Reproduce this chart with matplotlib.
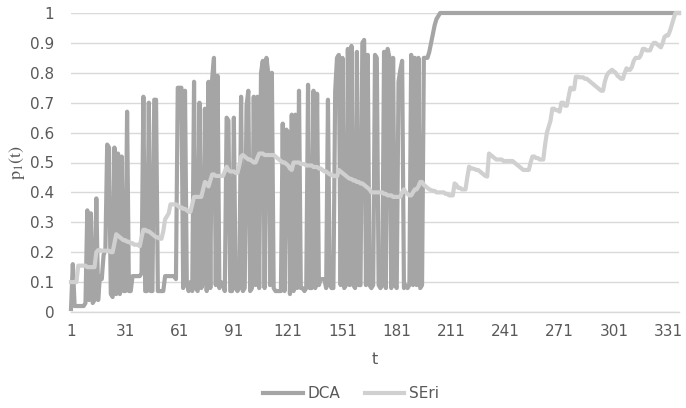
import numpy as np
import matplotlib
matplotlib.use("Agg")
import matplotlib.pyplot as plt
from matplotlib import font_manager
from matplotlib.lines import Line2D

# ---- data -------------------------------------------------------------
# DCA: oscillating phase, then the climb and the plateau at 1
dca_oscillation = [
    0.01, 0.16, 0.02, 0.02, 0.02, 0.02, 0.02, 0.02, 0.03, 0.34,
    0.04, 0.33, 0.03, 0.04, 0.38, 0.04, 0.12, 0.11, 0.19, 0.21,
    0.56, 0.55, 0.06, 0.05, 0.55, 0.06, 0.53, 0.06, 0.52, 0.07,
    0.07, 0.67, 0.07, 0.07, 0.12, 0.12, 0.12, 0.12, 0.12, 0.13,
    0.72, 0.07, 0.07, 0.70, 0.07, 0.07, 0.71, 0.71, 0.07, 0.07,
    0.07, 0.07, 0.12, 0.12, 0.12, 0.12, 0.12, 0.12, 0.11, 0.75,
    0.75, 0.75, 0.08, 0.74, 0.10, 0.07, 0.10, 0.07, 0.77, 0.08,
    0.07, 0.70, 0.08, 0.10, 0.68, 0.07, 0.77, 0.08, 0.78, 0.85,
    0.09, 0.79, 0.08, 0.10, 0.09, 0.07, 0.65, 0.64, 0.07, 0.07,
    0.65, 0.08, 0.07, 0.08, 0.72, 0.07, 0.08, 0.69, 0.74, 0.07,
    0.08, 0.72, 0.09, 0.72, 0.08, 0.80, 0.84, 0.08, 0.85, 0.80,
    0.09, 0.80, 0.08, 0.07, 0.07, 0.07, 0.07, 0.63, 0.07, 0.61,
    0.60, 0.06, 0.66, 0.07, 0.66, 0.08, 0.74, 0.08, 0.08, 0.07,
    0.08, 0.76, 0.08, 0.08, 0.74, 0.08, 0.73, 0.09, 0.11, 0.11,
    0.11, 0.08, 0.71, 0.09, 0.08, 0.08, 0.74, 0.85, 0.86, 0.09,
    0.85, 0.08, 0.09, 0.88, 0.09, 0.89, 0.09, 0.08, 0.87, 0.09,
    0.09, 0.90, 0.91, 0.09, 0.86, 0.09, 0.08, 0.09, 0.86, 0.85,
    0.09, 0.08, 0.09, 0.87, 0.08, 0.88, 0.85, 0.08, 0.85, 0.09,
    0.08, 0.77, 0.81, 0.84, 0.08, 0.09, 0.08, 0.09, 0.86, 0.09,
    0.85, 0.09, 0.85, 0.08, 0.09, 0.85, 0.85,
]
dca_climb = [0.85, 0.87, 0.90, 0.93, 0.96, 0.98, 0.99]
dca_plateau = [
    1.0, 1.0, 1.0, 1.0, 1.0, 1.0, 1.0, 1.0, 1.0, 1.0,
    1.0, 1.0, 1.0, 1.0, 1.0, 1.0, 1.0, 1.0, 1.0, 1.0,
    1.0, 1.0, 1.0, 1.0, 1.0, 1.0, 1.0, 1.0, 1.0, 1.0,
    1.0, 1.0, 1.0, 1.0, 1.0, 1.0, 1.0, 1.0, 1.0, 1.0,
    1.0, 1.0, 1.0, 1.0, 1.0, 1.0, 1.0, 1.0, 1.0, 1.0,
    1.0, 1.0, 1.0, 1.0, 1.0, 1.0, 1.0, 1.0, 1.0, 1.0,
    1.0, 1.0, 1.0, 1.0, 1.0, 1.0, 1.0, 1.0, 1.0, 1.0,
    1.0, 1.0, 1.0, 1.0, 1.0, 1.0, 1.0, 1.0, 1.0, 1.0,
    1.0, 1.0, 1.0, 1.0, 1.0, 1.0, 1.0, 1.0, 1.0, 1.0,
    1.0, 1.0, 1.0, 1.0, 1.0, 1.0, 1.0, 1.0, 1.0, 1.0,
    1.0, 1.0, 1.0, 1.0, 1.0, 1.0, 1.0, 1.0, 1.0, 1.0,
    1.0, 1.0, 1.0, 1.0, 1.0, 1.0, 1.0, 1.0, 1.0, 1.0,
    1.0, 1.0, 1.0, 1.0, 1.0, 1.0, 1.0, 1.0, 1.0, 1.0,
    1.0, 1.0, 1.0,
]

seri = [
    0.10, 0.10, 0.10, 0.10, 0.155, 0.155, 0.155, 0.155, 0.155, 0.15,
    0.15, 0.15, 0.15, 0.15, 0.20, 0.207, 0.207, 0.205, 0.205, 0.205,
    0.205, 0.205, 0.20, 0.20, 0.23, 0.26, 0.255, 0.25, 0.245, 0.24,
    0.24, 0.235, 0.235, 0.23, 0.23, 0.225, 0.225, 0.225, 0.22, 0.25,
    0.275, 0.275, 0.27, 0.27, 0.265, 0.26, 0.255, 0.25, 0.25, 0.245,
    0.245, 0.27, 0.31, 0.32, 0.33, 0.36, 0.36, 0.36, 0.36, 0.355,
    0.35, 0.35, 0.345, 0.345, 0.34, 0.335, 0.335, 0.36, 0.385, 0.385,
    0.385, 0.385, 0.385, 0.41, 0.435, 0.43, 0.42, 0.44, 0.46, 0.46,
    0.455, 0.455, 0.455, 0.455, 0.455, 0.47, 0.486, 0.475, 0.47, 0.47,
    0.47, 0.465, 0.465, 0.49, 0.52, 0.525, 0.52, 0.515, 0.51, 0.51,
    0.505, 0.50, 0.50, 0.515, 0.53, 0.53, 0.53, 0.525, 0.525, 0.525,
    0.525, 0.525, 0.525, 0.52, 0.515, 0.51, 0.505, 0.50, 0.50, 0.495,
    0.49, 0.48, 0.475, 0.50, 0.50, 0.50, 0.50, 0.495, 0.495, 0.495,
    0.49, 0.49, 0.49, 0.49, 0.485, 0.485, 0.485, 0.48, 0.48, 0.475,
    0.47, 0.47, 0.465, 0.46, 0.46, 0.455, 0.455, 0.453, 0.475, 0.47,
    0.465, 0.46, 0.455, 0.45, 0.446, 0.445, 0.44, 0.44, 0.435, 0.435,
    0.43, 0.43, 0.425, 0.42, 0.415, 0.41, 0.40, 0.40, 0.40, 0.40,
    0.40, 0.40, 0.40, 0.395, 0.395, 0.39, 0.39, 0.39, 0.385, 0.385,
    0.385, 0.385, 0.385, 0.40, 0.41, 0.40, 0.395, 0.39, 0.39, 0.40,
    0.41, 0.41, 0.42, 0.435, 0.435, 0.425, 0.42, 0.415, 0.41, 0.408,
    0.405, 0.405, 0.40, 0.40, 0.40, 0.40, 0.40, 0.395, 0.395, 0.39,
    0.39, 0.39, 0.43, 0.425, 0.415, 0.415, 0.41, 0.41, 0.41, 0.45,
    0.486, 0.48, 0.48, 0.478, 0.475, 0.475, 0.47, 0.465, 0.46, 0.455,
    0.453, 0.53, 0.525, 0.52, 0.515, 0.51, 0.51, 0.51, 0.51, 0.505,
    0.505, 0.505, 0.505, 0.505, 0.505, 0.50, 0.495, 0.49, 0.485, 0.48,
    0.475, 0.475, 0.475, 0.475, 0.50, 0.52, 0.52, 0.515, 0.515, 0.51,
    0.51, 0.51, 0.56, 0.60, 0.62, 0.64, 0.68, 0.68, 0.675, 0.675,
    0.67, 0.70, 0.70, 0.69, 0.69, 0.72, 0.75, 0.745, 0.745, 0.787,
    0.787, 0.785, 0.785, 0.785, 0.78, 0.78, 0.775, 0.77, 0.765, 0.76,
    0.755, 0.75, 0.745, 0.74, 0.74, 0.77, 0.79, 0.80, 0.805, 0.81,
    0.805, 0.80, 0.79, 0.785, 0.78, 0.78, 0.80, 0.815, 0.81, 0.81,
    0.82, 0.84, 0.85, 0.85, 0.85, 0.86, 0.88, 0.88, 0.875, 0.875,
    0.875, 0.89, 0.90, 0.90, 0.895, 0.89, 0.885, 0.90, 0.92, 0.925,
    0.925, 0.94, 0.96, 0.98, 1.0, 1.0, 1.0,
]

dca = dca_oscillation + dca_climb + dca_plateau

series_names = ["DCA", "SEri"]
x_ticks = [1, 31, 61, 91, 121, 151, 181, 211, 241, 271, 301, 331]
y_ticks = [0, 0.1, 0.2, 0.3, 0.4, 0.5, 0.6, 0.7, 0.8, 0.9, 1]
y_tick_labels = ["0", "0.1", "0.2", "0.3", "0.4", "0.5", "0.6", "0.7", "0.8", "0.9", "1"]

# ---- styling ----------------------------------------------------------
available = {f.name for f in font_manager.fontManager.ttflist}
narrow = "Liberation Sans Narrow" if "Liberation Sans Narrow" in available else "DejaVu Sans"
plt.rcParams["font.family"] = [narrow, "DejaVu Sans"]
plt.rcParams["mathtext.fontset"] = "stix"

text_color = "#595959"
grid_color = "#d9d9d9"
dca_color = "#a5a5a5"
seri_color = "#d0d0d0"

W, H = 686, 408
fig = plt.figure(figsize=(W / 100, H / 100), dpi=100)
left, right, top, bottom = 71, 679, 13, 312
ax = fig.add_axes([left / W, 1 - bottom / H, (right - left) / W, (bottom - top) / H])

n_points = max(len(dca), len(seri))
t_dca = np.arange(1, len(dca) + 1)
t_seri = np.arange(1, len(seri) + 1)
ax.plot(t_dca, dca, color=dca_color, lw=3.0, solid_joinstyle="round",
        clip_on=False, zorder=3)
ax.plot(t_seri, seri, color=seri_color, lw=3.0, solid_joinstyle="round",
        clip_on=False, zorder=4)

ax.set_xlim(1, n_points)
ax.set_ylim(0, 1)
ax.set_xticks(x_ticks)
ax.set_xticklabels([str(v) for v in x_ticks])
ax.set_yticks(y_ticks)
ax.set_yticklabels(y_tick_labels)
ax.tick_params(axis="both", length=0, colors=text_color, labelsize=11)
ax.tick_params(axis="y", pad=12)
ax.tick_params(axis="x", pad=9)

for s in ["top", "right", "left"]:
    ax.spines[s].set_visible(False)
ax.spines["bottom"].set_color(grid_color)
ax.spines["bottom"].set_linewidth(1.0)
ax.yaxis.grid(True, color=grid_color, lw=1.0)
ax.set_axisbelow(True)

fig.text(375 / W, 1 - 360 / H, "t", ha="center", va="center",
         color=text_color, fontsize=11.5)
fig.text(17 / W, 1 - 163 / H, r"$\mathrm{p_1(t)}$", ha="center", va="center",
         rotation=90, color=text_color, fontsize=13)

handles = [Line2D([], [], color=dca_color, lw=3.0),
           Line2D([], [], color=seri_color, lw=3.0)]
fig.legend(handles, series_names, loc="center", ncol=2,
           bbox_to_anchor=(351 / W, 1 - 394 / H), frameon=False,
           fontsize=11, labelcolor=text_color, handlelength=2.6,
           handletextpad=0.3, columnspacing=1.6)

fig.savefig("out.png", dpi=100)
